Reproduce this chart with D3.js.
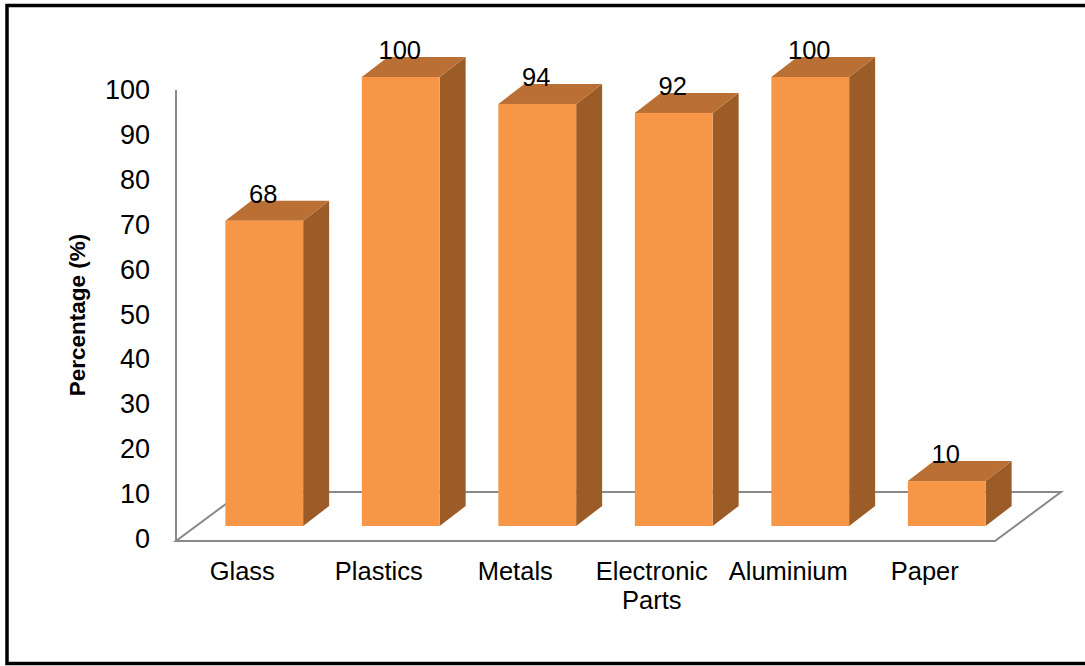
<!DOCTYPE html>
<html>
<head>
<meta charset="utf-8">
<script src="https://cdn.jsdelivr.net/npm/d3@7"></script>
<style>
  html, body { margin: 0; padding: 0; background: #fff; }
  svg { display: block; }
</style>
</head>
<body>
<svg id="chart" width="1085" height="666"></svg>
<script>
const categories = ["Glass", "Plastics", "Metals", "Electronic Parts", "Aluminium", "Paper"];
const values = [68, 100, 94, 92, 100, 10];
const yTicks = [0, 10, 20, 30, 40, 50, 60, 70, 80, 90, 100];
const yTitle = "Percentage (%)";

const svg = d3.select("#chart");
const font = "'Liberation Sans', Arial, sans-serif";

// frame
svg.append("rect").attr("x", 7).attr("y", 5.5).attr("width", 1120).attr("height", 658)
  .attr("fill", "#fff").attr("stroke", "#000").attr("stroke-width", 3.5);

// front plane geometry
const x0 = 176, x1 = 995;
const floorDepth = [66, -49];
const barOff = [20, -15];
const barDepth = [26, -20];

const x = d3.scaleBand().domain(categories).range([x0, x1]).paddingInner(0.43).paddingOuter(0.215);
const y = d3.scaleLinear().domain([0, 100]).range([541, 92]);

const axisColor = "#898989";
// floor
const fy = y(0);
const floorPts = [[x0, fy], [x1, fy], [x1 + floorDepth[0], fy + floorDepth[1]], [x0 + floorDepth[0], fy + floorDepth[1]]];
svg.append("path").attr("d", d3.line()(floorPts) + "Z")
  .attr("fill", "none").attr("stroke", axisColor).attr("stroke-width", 2);
// vertical axis
svg.append("line").attr("x1", x0).attr("x2", x0).attr("y1", y(100) - 2).attr("y2", y(0) + 1)
  .attr("stroke", axisColor).attr("stroke-width", 2);

// y tick labels
svg.append("g").selectAll("text").data(yTicks).join("text")
  .attr("x", 150).attr("y", d => y(d) - 2)
  .attr("text-anchor", "end").attr("dominant-baseline", "central")
  .attr("font-family", font).attr("font-size", 27).attr("fill", "#000")
  .text(d => d);

// y title
svg.append("text")
  .attr("transform", "translate(85,315) rotate(-90)")
  .attr("text-anchor", "middle")
  .attr("font-family", font).attr("font-weight", "bold").attr("font-size", 22.5)
  .text(yTitle);

// bars
const bw = x.bandwidth();
const bars = svg.append("g").selectAll("g").data(categories.map((c, i) => ({c, v: values[i]}))).join("g");
bars.each(function(d) {
  const g = d3.select(this);
  const L = x(d.c) + barOff[0], R = L + bw;
  const B = y(0) + barOff[1], T = y(d.v) + barOff[1];
  const dx = barDepth[0], dy = barDepth[1];
  // side
  g.append("path").attr("d", d3.line()([[R, T], [R + dx, T + dy], [R + dx, B + dy], [R, B]]) + "Z")
    .attr("fill", "#9C5C28");
  // top
  g.append("path").attr("d", d3.line()([[L, T], [L + dx, T + dy], [R + dx, T + dy], [R, T]]) + "Z")
    .attr("fill", "#BA7034");
  // front
  g.append("rect").attr("x", L).attr("y", T).attr("width", bw).attr("height", B - T)
    .attr("fill", "#F79646");
  // label
  g.append("text").attr("x", L + bw / 2 - 1).attr("y", T - 18)
    .attr("text-anchor", "middle").attr("font-family", font).attr("font-size", 25.5)
    .text(d.v);
});

// x labels
const xl = svg.append("g").selectAll("text").data(categories).join("text")
  .attr("x", d => x(d) + bw / 2 - 2).attr("y", 580)
  .attr("text-anchor", "middle").attr("font-family", font).attr("font-size", 25.5);
xl.each(function(d) {
  const parts = d === "Electronic Parts" ? ["Electronic", "Parts"] : [d];
  d3.select(this).selectAll("tspan").data(parts).join("tspan")
    .attr("x", x(d) + bw / 2 - 2).attr("dy", (p, i) => i === 0 ? 0 : 29).text(p => p);
});
</script>
</body>
</html>
